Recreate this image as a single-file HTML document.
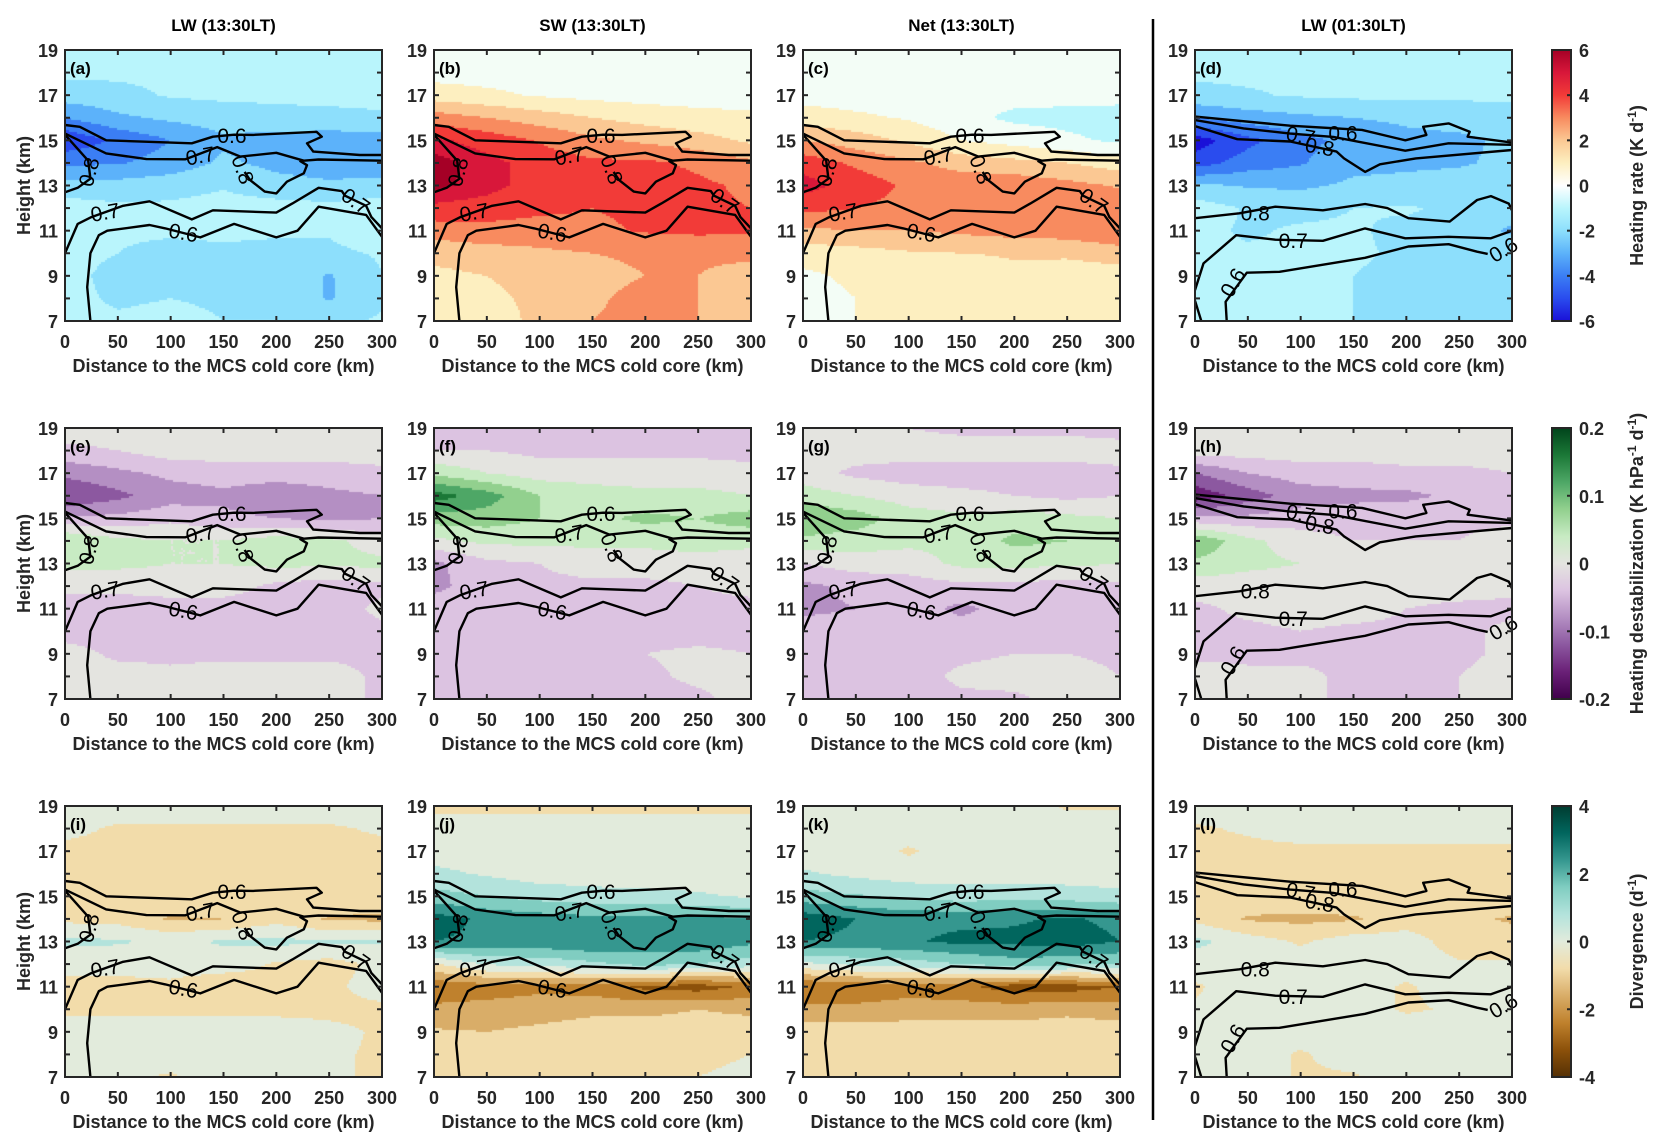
<!DOCTYPE html>
<html><head><meta charset="utf-8">
<style>
html,body{margin:0;padding:0;background:#fff;}
#wrap{position:relative;width:1662px;height:1146px;overflow:hidden;background:#fff;font-family:"Liberation Sans",Arial,sans-serif;}
canvas{position:absolute;}
svg{position:absolute;left:0;top:0;}
text{font-family:"Liberation Sans",Arial,sans-serif;}
</style></head>
<body>
<div id="wrap">
<svg id="ov" width="1662" height="1146"></svg>
</div>
<script>
// ---- layout ----
const X=[65,434,803,1195], W=317;
const Y=[50,428,806], H=271;
// ---- data: grids rows h=19..7, cols km=0..300 step 50 ----
const distances=[0,50,100,150,200,250,300];
const heights=[19,18,17,16,15,14,13,12,11,10,9,8,7];
const gridA=[[-.8,-.8,-.8,-.8,-.8,-.8,-.8],[-.8,-.8,-.8,-.8,-.8,-.8,-.8],[-1.5,-1.3,-.9,-.8,-.8,-.8,-.8],[-3.0,-2.2,-1.8,-1.5,-1.3,-1.2,-1.1],[-4.8,-3.8,-3,-2.2,-2.4,-2.6,-2.5],[-3.2,-3.1,-2.6,-1.8,-2.3,-2.6,-2.7],[-1.6,-1.6,-1.4,-1.1,-1.6,-1.8,-1.6],[-.5,-.8,-.8,-.6,-.6,-.7,-.5],[-.8,-.9,-.9,-.8,-.9,-.9,-.4],[-.8,-1.0,-1.2,-1.2,-1.2,-1.2,-.9],[-.8,-1.2,-1.2,-1.4,-1.3,-2.1,-1.0],[-.8,-1.1,-1.0,-1.1,-1.2,-2.1,-1.1],[-.8,-.9,-.8,-1.0,-1.0,-1.2,-.9]];
const gridB=[[.5,.5,.5,.5,.5,.5,.5],[.6,.6,.6,.6,.6,.6,.6],[1.5,1.2,.9,.7,.6,.6,.6],[3.5,3,2.5,2,1.6,1.3,1.2],[5.2,4.6,3.9,3.2,2.8,2.4,1.8],[5.9,5.3,4.6,4.2,4.2,3.8,3.2],[5.8,5.3,4.6,4.3,4.5,4.2,3.8],[4.8,4.6,4.2,4.0,4.2,4.2,4.0],[3.4,3.6,3.6,3.8,4.1,4.2,4.1],[2.4,2.6,2.8,3.0,3.1,3.2,3.3],[1.7,2,2.3,2.8,3.0,3.0,2.5],[1.5,1.8,2.2,2.9,3.2,3.0,2.4],[1.3,1.6,2.2,3.0,3.2,3.0,2.5]];
const gridC=[[.3,.3,.3,.3,.3,.3,.3],[.3,.3,.3,.3,.3,.3,.3],[.6,.5,.4,.3,.3,.3,.3],[1.5,1.2,.9,.3,-.2,-.3,-.4],[3,2.5,1.8,1.0,.6,.2,-.2],[4.6,3.8,3.2,2.6,2.3,2.0,1.5],[5.4,4.6,3.8,3.6,3.7,3.3,2.9],[4.3,4.0,3.7,3.5,3.9,3.7,3.7],[2.8,3.0,3.0,3.2,3.4,3.5,3.8],[1.4,1.6,1.9,2.0,2.1,2.2,2.6],[.8,1.2,1.4,1.2,1.8,1.4,1.4],[.6,1.0,1.3,1.1,1.9,1.2,1.1],[.5,1.0,1.2,1.1,1.7,1.3,1.2]];
const gridD=[[-.8,-.8,-.8,-.8,-.8,-.8,-.8],[-.8,-.8,-.8,-.8,-.8,-.8,-.8],[-1.3,-1.1,-.9,-.8,-.8,-.8,-.8],[-3,-2.5,-2.2,-2,-1.8,-1.6,-1.5],[-5.5,-4.3,-3.3,-2.7,-2.3,-2.2,-1.8],[-4.5,-3.5,-3.1,-2.3,-2.2,-2.1,-1.8],[-1.8,-2.1,-2.2,-1.8,-1.7,-1.6,-1.6],[-.5,-1.1,-1.2,-1.0,-.9,-1.2,-1.5],[-.8,-1.1,-.9,-.9,-1.2,-1.3,-2.2],[-.8,-.9,-.9,-.9,-1.1,-1.1,-1.2],[-.8,-.8,-.9,-1.0,-1.2,-1.3,-1.3],[-.8,-.8,-.9,-1.0,-1.2,-1.3,-1.3],[-.8,-.8,-.9,-1.0,-1.2,-1.3,-1.3]];
const gridE=[[0,0,0,0,0,0,0],[-.03,-.02,0,0,0,0,0],[-.09,-.07,-.05,-.04,-.04,-.04,-.03],[-.14,-.11,-.08,-.07,-.09,-.07,-.06],[-.05,-.05,-.03,-.05,-.06,-.07,-.06],[.06,.03,.02,.02,.04,.03,0],[.03,.03,.02,.02,.03,.03,.03],[-.01,-.01,0,0,-.03,-.04,-.03],[-.04,-.04,-.04,-.04,-.04,-.04,-.01],[-.04,-.04,-.04,-.04,-.04,-.04,-.03],[0,-.03,-.03,-.03,-.03,-.03,-.03],[0,0,-.01,0,0,0,-.03],[0,0,0,0,0,0,-.03]];
const gridF=[[-.04,-.04,-.04,-.04,-.04,-.04,-.04],[-.02,-.02,-.03,-.03,-.03,-.03,-.04],[.05,.02,0,0,0,0,0],[.16,.12,.06,.04,.03,.03,.02],[.08,.08,.06,.05,.07,.06,.08],[.01,.03,.03,.03,.03,.04,.03],[-.07,-.03,-.02,0,0,0,0],[-.07,-.04,-.03,-.03,-.03,-.02,0],[-.04,-.04,-.04,-.04,-.04,-.04,-.04],[-.04,-.04,-.04,-.04,-.04,-.04,-.04],[-.04,-.04,-.04,-.04,-.02,-.01,-.02],[-.04,-.04,-.04,-.04,-.03,-.01,-.01],[-.04,-.04,-.04,-.04,-.04,-.03,0]];
const gridG=[[0,0,-.02,-.03,-.03,-.03,-.04],[0,0,0,0,0,0,0],[0,-.03,-.04,-.04,-.04,-.04,-.03],[.04,.02,0,-.01,-.02,-.03,-.02],[.1,.08,.04,.03,.04,.03,.02],[.05,.04,.03,.03,.07,.06,.03],[-.02,0,0,.03,.03,.03,.02],[-.07,-.05,-.04,-.03,-.03,-.04,-.03],[-.07,-.06,-.04,-.07,-.04,-.04,-.04],[-.04,-.04,-.04,-.04,-.04,-.04,-.04],[-.04,-.04,-.04,-.03,-.02,-.02,-.03],[-.04,-.04,-.04,-.01,0,0,-.02],[-.04,-.04,-.04,-.03,-.03,0,0]];
const gridH=[[0,0,0,0,0,0,0],[0,0,0,0,0,0,0],[-.1,-.06,-.04,-.04,-.03,-.03,-.02],[-.17,-.12,-.08,-.07,-.07,-.05,-.03],[-.05,-.05,-.04,-.04,-.03,-.03,-.03],[.1,.03,0,-.02,-.02,-.02,0],[.05,.03,.02,.01,0,0,0],[0,0,0,0,0,0,-.01],[-.03,-.01,0,0,-.02,-.03,-.03],[-.03,-.03,-.02,-.03,-.03,-.03,-.01],[-.03,-.03,-.03,-.03,-.03,-.03,-.01],[0,-.01,-.01,-.03,-.03,-.02,0],[0,0,-.01,-.03,-.03,-.02,0]];
const gridI=[[0,0,0,0,0,0,0],[-.2,-.5,-.5,-.5,-.5,-.5,-.3],[-.6,-.6,-.6,-.6,-.6,-.6,-.6],[-.6,-.6,-.6,-.6,-.6,-.6,-.6],[-.5,-.5,-.5,-.5,-.5,-.5,-.5],[-.6,-.7,-1.3,-1.2,-.7,-1.3,-1.4],[.6,.5,.2,.5,.6,.5,.5],[-.2,-.2,0,0,-.5,-.7,-.2],[-.6,-.6,-.6,-1.0,-.6,-.6,0],[-.6,-.6,-.6,-.6,-.6,-.6,-.6],[0,0,0,0,0,-.2,-.5],[0,0,0,0,0,-.3,-.5],[0,-.2,-.5,0,0,-.3,-.5]];
const gridJ=[[-.6,-.6,-.6,-.6,-.6,-.6,-.6],[0,0,0,0,0,0,0],[0,0,0,0,0,0,0],[.6,.3,0,0,0,0,0],[1.5,1.2,.9,.7,.6,.5,.3],[3.2,2.6,2.4,2.2,2.2,2.3,2.0],[2.8,2.6,2.6,2.8,2.4,2.6,2.2],[-.5,.5,.6,1.0,1.5,1.2,.8],[-2.6,-2.4,-2.2,-2.4,-3.0,-3.2,-2.6],[-1.8,-1.7,-1.6,-1.4,-1.4,-1.2,-1.4],[-1.1,-1.2,-1.0,-.8,-.8,-.8,-.7],[-.8,-.8,-.8,-.8,-.8,-.5,-.4],[-.8,-.8,-.8,-.8,-.8,-.4,-.3]];
const gridK=[[0,0,0,0,0,-.5,-.5],[0,0,0,0,0,0,0],[0,0,-.5,0,0,0,0],[.5,.2,0,0,0,0,0],[1.5,1.3,1.0,.8,.9,.8,.6],[3.3,2.8,2.6,2.6,2.7,2.9,2.6],[2.8,2.6,2.7,3.0,3.0,3.2,2.8],[.2,.6,.8,1.2,1.6,1.4,1.2],[-2.8,-2.6,-2.4,-2.6,-3.2,-3.2,-2.8],[-1.8,-1.8,-1.6,-1.6,-1.6,-1.4,-1.6],[-.8,-.8,-.8,-.8,-.8,-.8,-.8],[-.8,-.8,-.8,-.8,-.8,-.8,-.8],[-.8,-.8,-.8,-.8,-.8,-.8,-.8]];
const gridL=[[0,0,0,0,0,0,0],[-.5,-.3,0,0,0,0,0],[-.6,-.6,-.6,-.6,-.6,-.6,-.6],[-.9,-.6,-.6,-.6,-.6,-.6,-.6],[-.6,-.6,-.6,-.6,-.6,-.6,-.6],[-.6,-1.3,-1.4,-1.3,-.8,-1.0,-1.3],[.6,0,-.5,0,0,-.8,-.8],[0,0,0,0,0,-.3,-.3],[-.5,0,0,0,-.5,0,.3],[-.3,0,0,0,-.5,-.3,0],[0,0,0,0,0,0,0],[0,0,-.5,0,0,0,0],[-.3,0,-.5,-.5,0,-.2,0]];
// contour lines (km, height) – cloud fraction
const dayC06top=[[0,15.68],[14,15.6],[39,15.0],[120,14.87],[140,15.16],[160,15.25],[178,15.24],[238,15.38],[243,15.16],[229,14.87],[235,14.5],[279,14.35],[300,14.35]];
const dayC07top=[[0,15.3],[39,14.42],[77,14.17],[114,14.16],[144,14.7],[166,14.28],[200,14.45],[226,14.1],[240,14.15],[300,14.1]];
const dayC08loop=[[170,13.6],[175,13.25],[189,12.73],[200,12.65],[210,13.17],[226,13.54],[229,13.9],[222,14.1]];
const dayC08left=[[0,15.25],[22,14.1],[24,13.3],[12,12.9],[0,12.7]];
const dayC07low=[[0,10.0],[12,11.3],[25,11.6],[55,12.1],[80,12.3],[120,11.5],[140,11.9],[200,11.8],[215,12.2],[240,12.9],[262,12.75],[265,12.55],[285,12.1],[290,11.6],[300,11.1]];
const dayC06low=[[24,7.0],[21,8.5],[24,10.0],[32,10.8],[40,11.0],[80,11.25],[95,11.1],[128,10.7],[160,11.3],[200,10.7],[220,11.0],[240,12.06],[285,11.7],[300,10.73]];
const nightC06top=[[0,16.05],[90,15.65],[158,15.46],[199,15.0],[219,15.24],[216,15.6],[240,15.75],[260,15.38],[258,15.16],[300,14.9]];
const nightC07top=[[0,15.9],[46,15.53],[90,15.3],[131,15.15],[199,14.54],[240,14.87],[300,14.8]];
const nightC08top=[[0,15.63],[40,15.05],[90,14.95],[134,14.5],[141,14.2],[161,13.6],[175,13.94],[209,14.2],[300,14.57]];
const nightC08low=[[0,11.55],[42,11.77],[76,12.06],[121,11.9],[161,12.18],[182,12.0],[202,11.55],[241,11.4],[267,12.36],[280,12.53],[297,12.2],[300,11.9]];
const nightC07low=[[0,8.37],[8,9.55],[39,10.8],[76,10.6],[121,10.55],[161,11.1],[199,10.66],[240,10.73],[280,10.66],[300,11.0]];
const nightC06low=[[30,7.0],[29,7.85],[49,9.14],[80,9.18],[161,9.8],[202,10.3],[240,10.4],[267,10.07],[277,9.97]];
const nightC06corner=[[0,7.9],[6,7.0]];
const dayLabels=[["0.6",158,15.2,0],["0.7",128,14.3,-10],["0.8",168,13.7,70],["0.8",23,13.6,-75],["0.7",38,11.8,-10],["0.6",112,10.9,10],["0.7",275,12.3,35]];
const nightLabels=[["0.7",100,15.2,10],["0.6",140,15.3,0],["0.8",118,14.7,10],["0.8",57,11.75,0],["0.7",93,10.55,0],["0.6",36,8.7,-60],["0.6",292,10.15,-30]];
const xTicks=[0,50,100,150,200,250,300];
const yTicks=[7,9,11,13,15,17,19];
const titles=["LW (13:30LT)","SW (13:30LT)","Net (13:30LT)","LW (01:30LT)"];
// colour schemes (bin edges & colours)
const heatEdges=[-6,-5,-4,-3,-2,-1,0,1,2,3,4,5,5.6,6];
const heatCols=['#1a10d8','#2a4cee','#3b7ef4','#5cb2fa','#8ddffc','#b9f5fc','#f3fdf6','#fdefc0','#fbc893','#f88b5f','#f23b38','#d8173a','#a50026'];
const destEdges=[-.22,-.18,-.14,-.10,-.06,-.02,.02,.06,.10,.14,.18,.22];
const destCols=['#40004b','#6a2077','#8c58a0','#b48fc3','#dcc3e1','#e4e4e0','#c8ebc3','#92d08e','#4ea766','#1b7837','#00441b'];
const divEdges=[-4.4,-3.6,-2.8,-2.0,-1.2,-.4,.4,1.2,2.0,2.8,3.6,4.4];
const divCols=['#543005','#8c510a','#bf812d','#d9ad68','#f2dcaa','#e2ebdc','#b3e3dc','#80cdc1','#35978f','#01665e','#003c30'];
</script>
<script>
const NS="http://www.w3.org/2000/svg";
const ov=document.getElementById('ov');
const wrap=document.getElementById('wrap');
function mk(tag,attrs,parent){const e=document.createElementNS(NS,tag);for(const k in attrs)e.setAttribute(k,attrs[k]);(parent||ov).appendChild(e);return e;}
function sx(col,km){return X[col]+km/300*W;}
function sy(row,h){return Y[row]+(19-h)/12*H;}
function interp(g,km,h){let fx=km/50,fy=19-h;let i=Math.min(5,Math.max(0,Math.floor(fx))),j=Math.min(11,Math.max(0,Math.floor(fy)));let tx=fx-i,ty=fy-j;
return g[j][i]*(1-tx)*(1-ty)+g[j][i+1]*tx*(1-ty)+g[j+1][i]*(1-tx)*ty+g[j+1][i+1]*tx*ty;}
function binColor(v,edges,cols){for(let k=0;k<cols.length;k++){if(v<edges[k+1])return cols[k];}return cols[cols.length-1];}
const panels=[
 [gridA,0,0,heatEdges,heatCols,'a'],[gridB,1,0,heatEdges,heatCols,'b'],[gridC,2,0,heatEdges,heatCols,'c'],[gridD,3,0,heatEdges,heatCols,'d'],
 [gridE,0,1,destEdges,destCols,'e'],[gridF,1,1,destEdges,destCols,'f'],[gridG,2,1,destEdges,destCols,'g'],[gridH,3,1,destEdges,destCols,'h'],
 [gridI,0,2,divEdges,divCols,'i'],[gridJ,1,2,divEdges,divCols,'j'],[gridK,2,2,divEdges,divCols,'k'],[gridL,3,2,divEdges,divCols,'l']];
panels.forEach(p=>{
 const [g,col,row,edges,cols,lab]=p;
 const cv=document.createElement('canvas');
 
 
 cv.width=W;cv.height=H;cv.style.left=X[col]+'px';cv.style.top=Y[row]+'px';
 wrap.insertBefore(cv,ov);
 const ctx=cv.getContext('2d');
 const st=2;
 for(let yy=0;yy<H;yy+=st){for(let xx=0;xx<W;xx+=st){
  const km=(xx+st/2)/W*300,h=19-(yy+st/2)/H*12;
  ctx.fillStyle=binColor(interp(g,km,h),edges,cols);ctx.fillRect(xx,yy,st,st);}}
 const grp=mk('g',{});
 
 
 const night=col===3;
 const lines=night?[nightC06top,nightC07top,nightC08top,nightC08low,nightC07low,nightC06low,nightC06corner]:[dayC06top,dayC07top,dayC08loop,dayC08left,dayC07low,dayC06low];
 const cp=mk('clipPath',{id:'clip'+lab},grp);
 mk('rect',{x:X[col],y:Y[row],width:W,height:H},cp);
 lines.forEach(L=>{
  const pl=mk('polyline',{points:L.map(q=>sx(col,q[0]).toFixed(1)+','+sy(row,q[1]).toFixed(1)).join(' '),fill:'none',stroke:'#000','stroke-width':2.4,'stroke-linejoin':'round','clip-path':'url(#clip'+lab+')'},grp);
  
  
 });
 (night?nightLabels:dayLabels).forEach(Lb=>{
  const x=sx(col,Lb[1]),y=sy(row,Lb[2]);
  const t=mk('text',{x:x,y:y+7,'font-size':21,'text-anchor':'middle',fill:'#000',transform:'rotate('+Lb[3]+' '+x+' '+y+')'},grp);
  t.textContent=Lb[0];
  
  
 });
 const fr=mk('rect',{x:X[col],y:Y[row],width:W,height:H,fill:'none',stroke:'#262626','stroke-width':2},grp);
 
 
 xTicks.forEach(v=>{const x=sx(col,v);
  mk('line',{x1:x,x2:x,y1:Y[row],y2:Y[row]+5,stroke:'#262626','stroke-width':2},grp);
  mk('line',{x1:x,x2:x,y1:Y[row]+H,y2:Y[row]+H-5,stroke:'#262626','stroke-width':2},grp);
  const t=mk('text',{x:x,y:Y[row]+H+27,'font-size':18,'font-weight':'bold','text-anchor':'middle',fill:'#262626'},grp);
  t.textContent=v;
  
  
 });
 for(let h=7;h<=19;h++){const y=sy(row,h);
  mk('line',{x1:X[col],x2:X[col]+5,y1:y,y2:y,stroke:'#262626','stroke-width':2},grp);
  mk('line',{x1:X[col]+W,x2:X[col]+W-5,y1:y,y2:y,stroke:'#262626','stroke-width':2},grp);}
 yTicks.forEach(v=>{const t=mk('text',{x:X[col]-7,y:sy(row,v)+7,'font-size':18,'font-weight':'bold','text-anchor':'end',fill:'#262626'},grp);
  t.textContent=v;
  
  });
 const xl=mk('text',{x:X[col]+W/2,y:Y[row]+H+51,'font-size':18,'font-weight':'bold','text-anchor':'middle',fill:'#262626'},grp);
 xl.textContent='Distance to the MCS cold core (km)';
 
 
 if(col===0){const yx=30,yy=Y[row]+H/2;
  const yl=mk('text',{x:yx,y:yy,'font-size':18,'font-weight':'bold','text-anchor':'middle',fill:'#262626',transform:'rotate(-90 '+yx+' '+yy+')'},grp);
  yl.textContent='Height (km)';
  
  }
 const pt=mk('text',{x:X[col]+5,y:Y[row]+24,'font-size':17,'font-weight':'bold',fill:'#000'},grp);
 pt.textContent='('+lab+')';
 
 
});
titles.forEach((s,i)=>{const t=mk('text',{x:X[i]+W/2,y:31,'font-size':17,'font-weight':'bold','text-anchor':'middle',fill:'#000'});
 t.textContent=s;
 
 });
const dv=mk('line',{x1:1153,x2:1153,y1:19,y2:1120,stroke:'#000','stroke-width':2.5});


const cbX=1552,cbW=19;
const cbs=[
 [0,heatCols,['6','4','2','0','-2','-4','-6'],'Heating rate (K d',['-1',')']],
 [1,destCols,['0.2','0.1','0','-0.1','-0.2'],'Heating destabilization (K hPa',['-1',' d','-1',')']],
 [2,divCols,['4','2','0','-2','-4'],'Divergence (d',['-1',')']]];
const defs=mk('defs',{});
cbs.forEach(c=>{const [row,cols,labs,title,rest]=c;
 const gid='cbg'+row;const lg=mk('linearGradient',{id:gid,x1:0,y1:1,x2:0,y2:0},defs);
 const full=row===0?['#1a10d8','#2a4cee','#3b7ef4','#5cb2fa','#8ddffc','#b9f5fc','#ffffff','#fdefc0','#fbc893','#f88b5f','#f23b38','#d8173a','#a50026']:cols;
 full.forEach((cc,k)=>mk('stop',{offset:(k/(full.length-1)),'stop-color':cc},lg));
 const r=mk('rect',{x:cbX,y:Y[row],width:cbW,height:H,fill:'url(#'+gid+')',stroke:'#262626','stroke-width':2});
 
 
 labs.forEach((s,k)=>{const y=Y[row]+k*H/(labs.length-1);
  mk('line',{x1:cbX+cbW,x2:cbX+cbW-4,y1:y,y2:y,stroke:'#262626','stroke-width':2});
  const t=mk('text',{x:cbX+cbW+8,y:y+7,'font-size':18,'font-weight':'bold',fill:'#262626'});
  t.textContent=s;
  
  });
 const tx=1643,ty=Y[row]+H/2;
 const t=mk('text',{x:tx,y:ty,'font-size':18,'font-weight':'bold','text-anchor':'middle',fill:'#262626',transform:'rotate(-90 '+tx+' '+ty+')'});
 
 
 t.appendChild(document.createTextNode(title));
 for(let k=0;k<rest.length;k++){const ts=mk('tspan',{},t);
  if(rest[k]==='-1'){ts.setAttribute('dy','-7');ts.setAttribute('font-size','12');}
  else if(k>0&&rest[k-1]==='-1'){ts.setAttribute('dy','7');}
  ts.textContent=rest[k];}
});
</script>
</body></html>
